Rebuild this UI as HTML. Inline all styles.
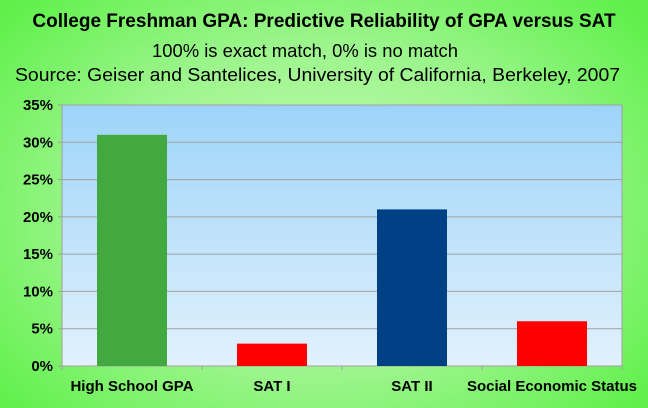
<!DOCTYPE html>
<html><head><meta charset="utf-8"><style>
body{margin:0;width:648px;height:408px;overflow:hidden;font-family:"Liberation Sans",Arial,sans-serif;}
#bg{position:absolute;left:0;top:0;width:648px;height:408px;background:radial-gradient(ellipse 420px 300px at 320px 210px,#c8fbb8 0%,#9cf58c 55%,#5ff04a 100%);}
</style></head><body>
<div id="bg"></div>
<svg id="c" width="648" height="408" style="position:absolute;left:0;top:0">
<defs><linearGradient id="pg" x1="0" y1="0" x2="0" y2="1"><stop offset="0" stop-color="#9dd4f9"/><stop offset="1" stop-color="#e2f1fc"/></linearGradient></defs>
<text x="324" y="27" text-anchor="middle" font-size="19" font-weight="bold" fill="#000">College Freshman GPA: Predictive Reliability of GPA versus SAT</text>
<text x="152" y="57" textLength="306" lengthAdjust="spacingAndGlyphs" font-size="18" fill="#000">100% is exact match, 0% is no match</text>
<text x="15" y="81" textLength="605" lengthAdjust="spacingAndGlyphs" font-size="18" fill="#000">Source: Geiser and Santelices, University of California, Berkeley, 2007</text>
<rect x="62" y="105" width="560" height="261" fill="url(#pg)" stroke="#a0a0a0"/>
<g id="g"></g>
</svg>
<script>
const categories=["High School GPA","SAT I","SAT II","Social Economic Status"];
const values=[31,3,21,6];
const colors=["#41a940","#ff0000","#004185","#ff0000"];
const ticks=[0,5,10,15,20,25,30,35];
const L=62,R=622,T=105,B=366,MAX=35;
const y=v=>B-(B-T)*v/MAX;
const cw=(R-L)/categories.length;
const x=i=>L+cw*i;
const g=document.getElementById('g');
const NS="http://www.w3.org/2000/svg";
function mk(t,a){const e=document.createElementNS(NS,t);for(const k in a)e.setAttribute(k,a[k]);g.appendChild(e);return e;}
ticks.forEach(t=>{
 if(t>0&&t<MAX){const l=mk('line',{x1:L,x2:R,y1:y(t),y2:y(t),stroke:'#a0a0a0'});
 
 }
 const tk=mk('line',{x1:L-4,x2:L,y1:y(t),y2:y(t),stroke:'#a0a0a0'});
 
 
 const tx=mk('text',{x:L-9,y:y(t)+5,'text-anchor':'end','font-size':15,'font-weight':'bold'});
 tx.textContent=t+'%';
 
 
});
for(let i=0;i<=categories.length;i++){
 const tk=mk('line',{x1:x(i),x2:x(i),y1:B,y2:B+4,stroke:'#a0a0a0'});
 
 
}
categories.forEach((c,i)=>{
 const r=mk('rect',{x:x(i)+cw*0.25,y:y(values[i]),width:cw*0.5,height:B-y(values[i]),fill:colors[i]});
 
 
 const tx=mk('text',{x:x(i)+cw/2,y:B+25,'text-anchor':'middle','font-size':15,'font-weight':'bold'});
 tx.textContent=c;
 
 
});
</script>
</body></html>
